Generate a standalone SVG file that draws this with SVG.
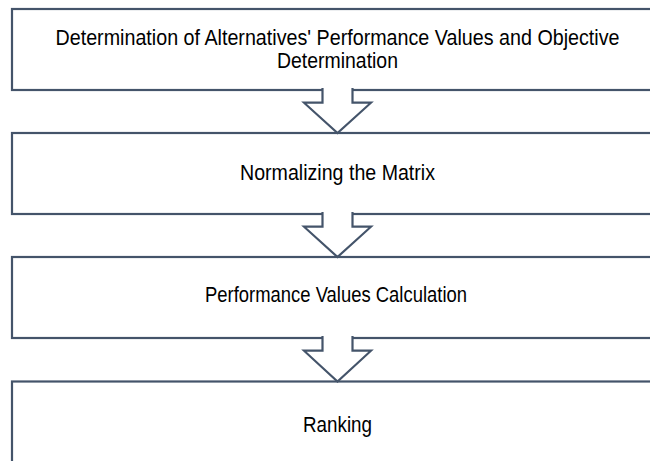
<svg xmlns="http://www.w3.org/2000/svg" width="650" height="461" viewBox="0 0 650 461">
<style>
.box{fill:#ffffff;stroke:#44546a;stroke-width:2.2}
.arr{fill:#ffffff;stroke:#44546a;stroke-width:2.2;stroke-linejoin:miter}
.lbl{font-family:"Liberation Sans Narrow","Liberation Sans",Arial,sans-serif;font-size:22.5px;fill:#000000;text-anchor:middle}
</style>
<rect width="650" height="461" fill="#ffffff"/>
<g id="n1">
<rect class="box" x="12" y="9" width="652" height="81"/>
<text class="lbl" x="337.5" y="45" textLength="564" lengthAdjust="spacingAndGlyphs">Determination of Alternatives' Performance Values and Objective</text>
<text class="lbl" x="337.5" y="68" textLength="121" lengthAdjust="spacingAndGlyphs">Determination</text>
</g>
<g id="n2">
<rect class="box" x="12" y="133" width="652" height="81"/>
<text class="lbl" x="337.5" y="179.5" textLength="195" lengthAdjust="spacingAndGlyphs">Normalizing the Matrix</text>
</g>
<g id="n3">
<rect class="box" x="12" y="257" width="652" height="81"/>
<text class="lbl" x="336" y="302" textLength="262" lengthAdjust="spacingAndGlyphs">Performance Values Calculation</text>
</g>
<g id="n4">
<rect class="box" x="12" y="381.5" width="652" height="85"/>
<text class="lbl" x="337.5" y="431.5" textLength="69" lengthAdjust="spacingAndGlyphs">Ranking</text>
</g>
<g id="connectors">
<path class="arr" d="M322.5,88 L322.5,102.7 L304,102.7 L337.5,133 L371,102.7 L352.5,102.7 L352.5,88"/>
<path class="arr" d="M322.5,212 L322.5,226.7 L304,226.7 L337.5,257 L371,226.7 L352.5,226.7 L352.5,212"/>
<path class="arr" d="M322.5,336 L322.5,350.7 L304,350.7 L337.5,381.5 L371,350.7 L352.5,350.7 L352.5,336"/>
</g>
</svg>
